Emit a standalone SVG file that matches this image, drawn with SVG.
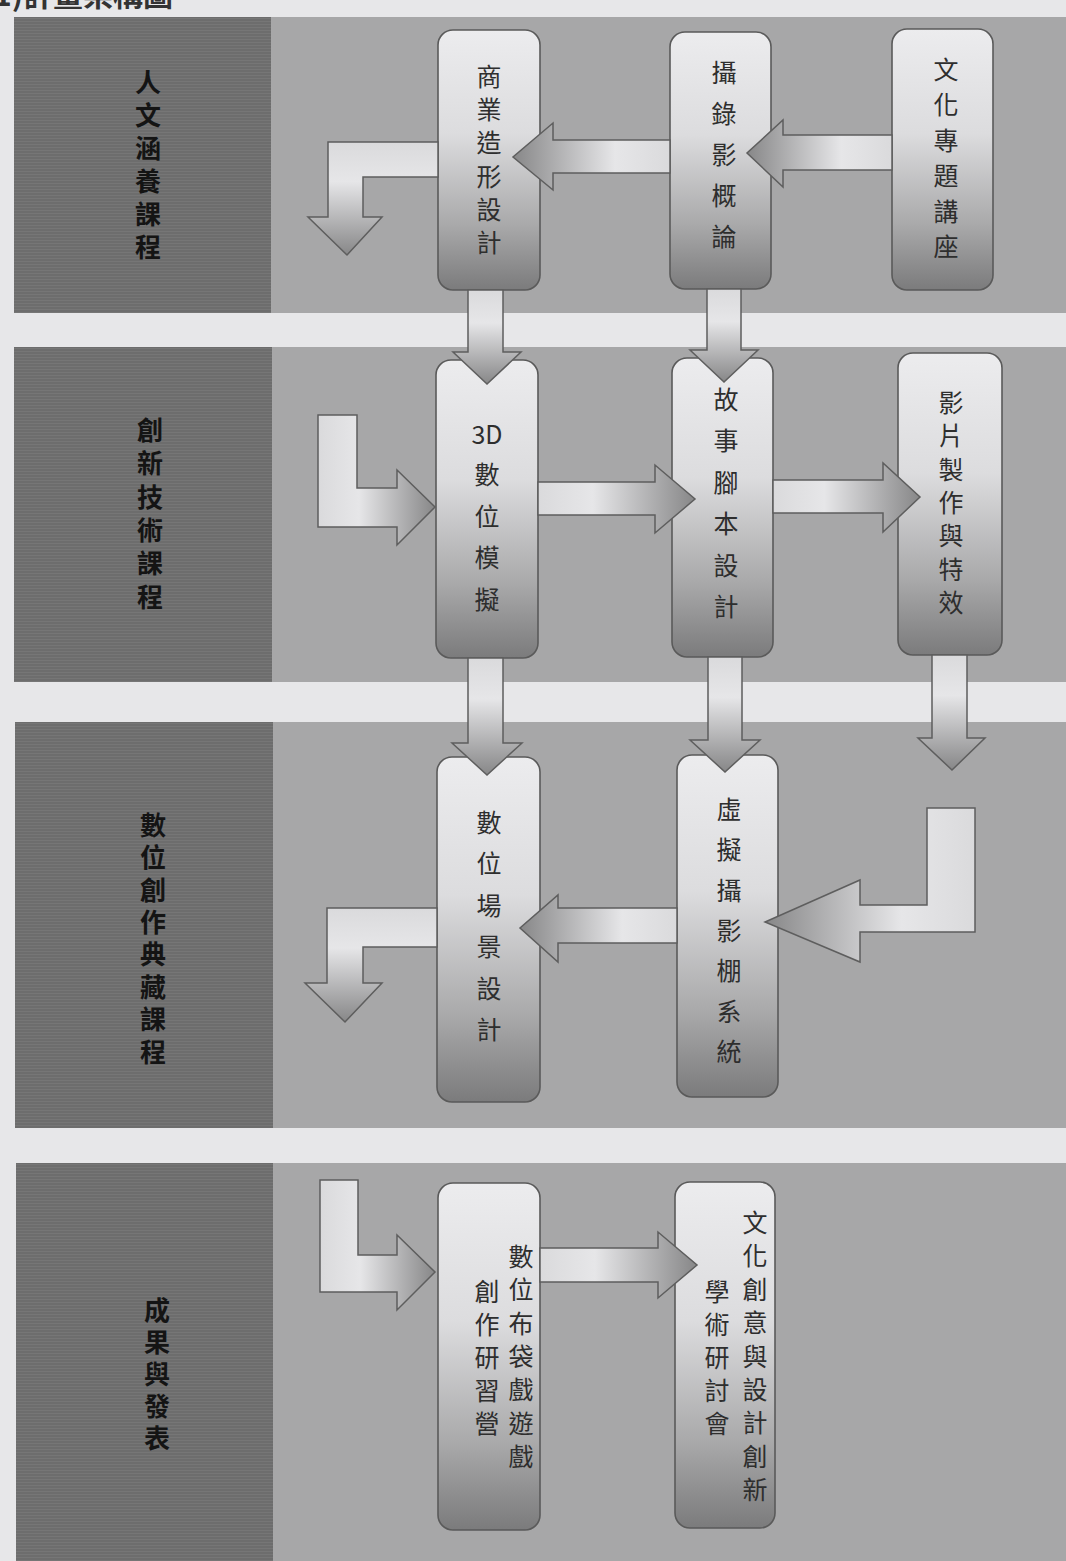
<svg xmlns="http://www.w3.org/2000/svg" width="1066" height="1561" viewBox="0 0 1066 1561">
<defs>
<style>
.band{fill:#a7a7a8}
.side{fill:url(#tex)}
.lbl{font-family:"Noto Sans CJK TC","Noto Sans CJK SC",sans-serif;font-size:26px;font-weight:bold;fill:#141414;writing-mode:vertical-rl;text-anchor:start}
.node rect{fill:url(#gN);stroke:#5a5a5a;stroke-width:1.6}
.node text{font-family:"Noto Sans CJK TC","Noto Sans CJK SC",sans-serif;font-size:25px;fill:#2e2e2e;text-anchor:middle}
.arr{stroke:#5e5e5e;stroke-width:1.5;stroke-linejoin:miter}
</style>
<pattern id="tex" width="6" height="3" patternUnits="userSpaceOnUse">
<rect width="6" height="3" fill="#6d6d6d"/>
<rect width="6" height="1" fill="#767676"/>
</pattern>
<linearGradient id="gN" x1="0" y1="0" x2="0" y2="1">
<stop offset="0" stop-color="#ececee"/>
<stop offset="0.4" stop-color="#dcdcde"/>
<stop offset="0.75" stop-color="#a9a9aa"/>
<stop offset="1" stop-color="#7b7b7c"/>
</linearGradient>
<linearGradient id="gL" x1="1" y1="0" x2="0" y2="0">
<stop offset="0" stop-color="#dadadc"/>
<stop offset="0.35" stop-color="#e6e6e8"/>
<stop offset="1" stop-color="#878788"/>
</linearGradient>
<linearGradient id="gR" x1="0" y1="0" x2="1" y2="0">
<stop offset="0" stop-color="#dadadc"/>
<stop offset="0.35" stop-color="#e6e6e8"/>
<stop offset="1" stop-color="#878788"/>
</linearGradient>
<linearGradient id="gD" x1="0" y1="0" x2="0" y2="1">
<stop offset="0" stop-color="#dadadc"/>
<stop offset="0.35" stop-color="#e6e6e8"/>
<stop offset="1" stop-color="#878788"/>
</linearGradient>
</defs>

<rect width="1066" height="1561" fill="#e7e7e9"/>
<text x="-6" y="6" font-family="Noto Sans CJK TC, Noto Sans CJK SC, sans-serif" font-size="30" font-weight="bold" fill="#333">1)計畫架構圖</text>

<g id="bands">
<rect class="band" x="270" y="17" width="796" height="296"/>
<rect class="side" x="14" y="17" width="257" height="296"/>
<rect class="band" x="270" y="347" width="796" height="335"/>
<rect class="side" x="14" y="347" width="258" height="335"/>
<rect class="band" x="270" y="722" width="796" height="406"/>
<rect class="side" x="15" y="722" width="258" height="406"/>
<rect class="band" x="270" y="1163" width="796" height="398"/>
<rect class="side" x="16" y="1163" width="257" height="398"/>
</g>

<g id="label-1"><text class="lbl" x="148" y="69" letter-spacing="7">人文涵養課程</text></g>
<g id="label-2"><text class="lbl" x="150" y="417" letter-spacing="7.4">創新技術課程</text></g>
<g id="label-3"><text class="lbl" x="153" y="812" letter-spacing="6.4">數位創作典藏課程</text></g>
<g id="label-4"><text class="lbl" x="157" y="1297" letter-spacing="6">成果與發表</text></g>

<g id="n1" class="node">
<rect x="438" y="30" width="102" height="260" rx="15"/>
<text x="489" y="86">商</text><text x="489" y="119">業</text><text x="489" y="152">造</text><text x="489" y="186">形</text><text x="489" y="219">設</text><text x="489" y="252">計</text>
</g>
<g id="n2" class="node">
<rect x="670" y="32" width="101" height="257" rx="15"/>
<text x="724" y="82">攝</text><text x="724" y="123">錄</text><text x="724" y="164">影</text><text x="724" y="205">概</text><text x="724" y="246">論</text>
</g>
<g id="n3" class="node">
<rect x="892" y="29" width="101" height="261" rx="15"/>
<text x="946" y="79">文</text><text x="946" y="114">化</text><text x="946" y="150">專</text><text x="946" y="185">題</text><text x="946" y="221">講</text><text x="946" y="256">座</text>
</g>
<g id="n4" class="node">
<rect x="436" y="360" width="102" height="298" rx="15"/>
<text x="487" y="444">3D</text><text x="487" y="484">數</text><text x="487" y="526">位</text><text x="487" y="567">模</text><text x="487" y="609">擬</text>
</g>
<g id="n5" class="node">
<rect x="672" y="358" width="101" height="299" rx="15"/>
<text x="726" y="409">故</text><text x="726" y="450">事</text><text x="726" y="492">腳</text><text x="726" y="533">本</text><text x="726" y="575">設</text><text x="726" y="616">計</text>
</g>
<g id="n6" class="node">
<rect x="898" y="353" width="104" height="302" rx="15"/>
<text x="951" y="412">影</text><text x="951" y="445">片</text><text x="951" y="479">製</text><text x="951" y="512">作</text><text x="951" y="545">與</text><text x="951" y="579">特</text><text x="951" y="612">效</text>
</g>
<g id="n7" class="node">
<rect x="437" y="757" width="103" height="345" rx="15"/>
<text x="489" y="832">數</text><text x="489" y="873">位</text><text x="489" y="915">場</text><text x="489" y="956">景</text><text x="489" y="998">設</text><text x="489" y="1039">計</text>
</g>
<g id="n8" class="node">
<rect x="677" y="755" width="101" height="342" rx="15"/>
<text x="729" y="819">虛</text><text x="729" y="859">擬</text><text x="729" y="900">攝</text><text x="729" y="940">影</text><text x="729" y="980">棚</text><text x="729" y="1021">系</text><text x="729" y="1061">統</text>
</g>
<g id="n9" class="node">
<rect x="438" y="1183" width="102" height="347" rx="15"/>
<text x="521" y="1266">數</text><text x="521" y="1299">位</text><text x="521" y="1333">布</text><text x="521" y="1366">袋</text><text x="521" y="1399">戲</text><text x="521" y="1433">遊</text><text x="521" y="1466">戲</text>
<text x="487" y="1301">創</text><text x="487" y="1334">作</text><text x="487" y="1367">研</text><text x="487" y="1400">習</text><text x="487" y="1433">營</text>
</g>
<g id="n10" class="node">
<rect x="675" y="1182" width="100" height="346" rx="15"/>
<text x="755" y="1232">文</text><text x="755" y="1265">化</text><text x="755" y="1299">創</text><text x="755" y="1332">意</text><text x="755" y="1366">與</text><text x="755" y="1399">設</text><text x="755" y="1432">計</text><text x="755" y="1466">創</text><text x="755" y="1499">新</text>
<text x="717" y="1301">學</text><text x="717" y="1334">術</text><text x="717" y="1367">研</text><text x="717" y="1400">討</text><text x="717" y="1433">會</text>
</g>

<g id="connectors" class="arr">
<polygon fill="url(#gL)" points="892,135 783,135 783,120 747,153 783,187 783,170 892,170"/>
<polygon fill="url(#gL)" points="670,140 553,140 553,123 513,157 553,190 553,173 670,173"/>
<polygon fill="url(#gD)" points="438,142 328,142 328,217 308,217 347,255 382,217 363,217 363,177 438,177"/>
<polygon fill="url(#gD)" points="468,290 503,290 503,352 521,352 487,384 453,352 468,352"/>
<polygon fill="url(#gD)" points="707,289 741,289 741,350 758,350 724,382 690,350 707,350"/>
<polygon fill="url(#gR)" points="318,415 357,415 357,488 397,488 397,470 435,507 397,545 397,527 318,527"/>
<polygon fill="url(#gR)" points="538,482 655,482 655,465 695,499 655,533 655,515 538,515"/>
<polygon fill="url(#gR)" points="773,480 883,480 883,463 920,497 883,532 883,513 773,513"/>
<polygon fill="url(#gD)" points="468,658 503,658 503,743 522,743 487,775 452,743 468,743"/>
<polygon fill="url(#gD)" points="708,657 742,657 742,740 760,740 725,772 690,740 708,740"/>
<polygon fill="url(#gD)" points="932,655 967,655 967,738 985,738 952,770 918,738 932,738"/>
<polygon fill="url(#gL)" points="927,808 975,808 975,932 860,932 860,962 765,922 860,880 860,905 927,905"/>
<polygon fill="url(#gL)" points="677,908 558,908 558,895 520,928 558,962 558,943 677,943"/>
<polygon fill="url(#gD)" points="437,908 327,908 327,983 305,983 345,1022 382,983 363,983 363,947 437,947"/>
<polygon fill="url(#gR)" points="320,1180 358,1180 358,1255 397,1255 397,1235 435,1272 397,1310 397,1292 320,1292"/>
<polygon fill="url(#gR)" points="540,1248 658,1248 658,1232 697,1265 658,1298 658,1282 540,1282"/>
</g>
</svg>
